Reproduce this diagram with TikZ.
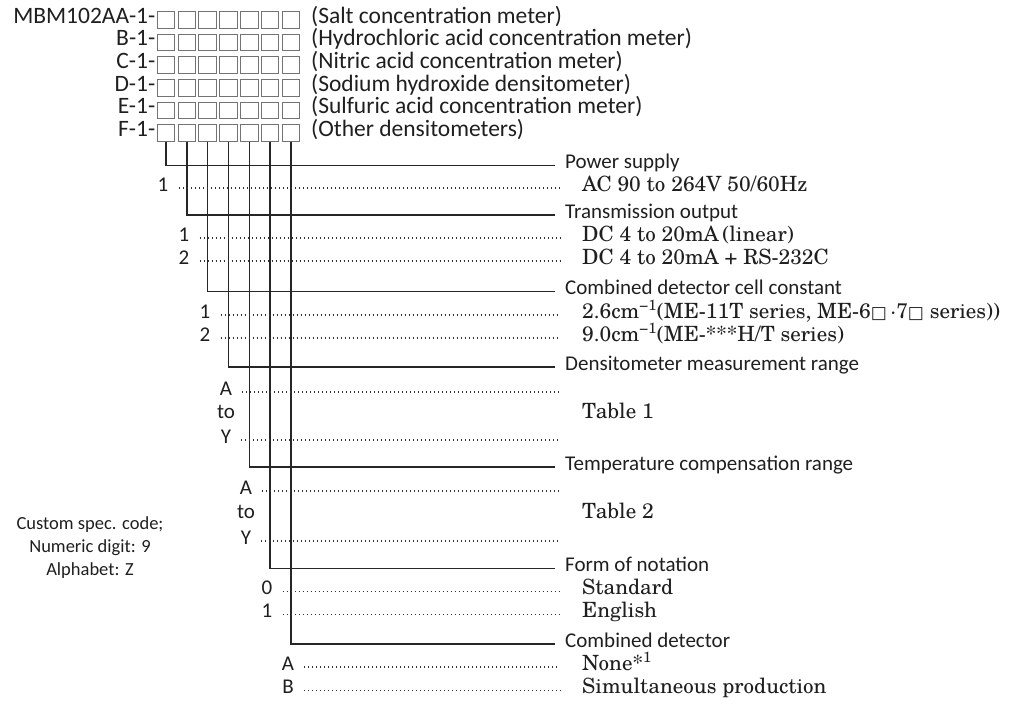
\documentclass[tikz,border=0pt]{standalone}
\usepackage{fontspec}
\setmainfont{Carlito}
\newfontfamily\cent{texgyreschola-regular.otf}
\newfontfamily\dv{DejaVu Sans}
\begin{document}
\begin{tikzpicture}[x=1pt,y=-1pt,
  every node/.style={inner sep=0pt, text=black!88},
  hdr/.style={font=\fontsize{23.5}{23.5}\selectfont, text height=0.72em, text depth=0.07em},
  sans/.style={font=\fontsize{21}{21}\selectfont, text height=0.72em, text depth=0.07em},
  serif/.style={font=\cent\fontsize{21}{21}\selectfont, text height=0.72em, text depth=0.07em},
  cbox/.style={draw=black!55, line width=0.9pt, minimum width=17.5pt, minimum height=16.5pt, inner sep=0pt},
  conn/.style={draw=black!85, line width=1.5pt},
  dots/.style={draw=black!80, line width=1.1pt, dash pattern=on 1.1pt off 2.9pt},
  cat/.style={sans, anchor=west, inner xsep=10pt},
  val/.style={serif, anchor=west, inner xsep=22pt},
  num/.style={sans, inner xsep=10pt},
]
\path[use as bounding box] (0,0) rectangle (1017,706);

% header rows
\node[hdr, anchor=east] (p1) at (155.5,20) {MBM102AA-1-};
\node[hdr, anchor=east] (p2) at (155.5,42.6) {B-1-};
\node[hdr, anchor=east] (p3) at (155.5,65.2) {C-1-};
\node[hdr, anchor=east] (p4) at (155.5,87.8) {D-1-};
\node[hdr, anchor=east] (p5) at (155.5,110.4) {E-1-};
\node[hdr, anchor=east] (p6) at (155.5,133) {F-1-};
\node[hdr, anchor=west] (s1) at (311,20) {(Salt concentration meter)};
\node[hdr, anchor=west] (s2) at (311,42.6) {(Hydrochloric acid concentration meter)};
\node[hdr, anchor=west] (s3) at (311,65.2) {(Nitric acid concentration meter)};
\node[hdr, anchor=west] (s4) at (311,87.8) {(Sodium hydroxide densitometer)};
\node[hdr, anchor=west] (s5) at (311,110.4) {(Sulfuric acid concentration meter)};
\node[hdr, anchor=west] (s6) at (311,133) {(Other densitometers)};
\foreach \r/\y in {1/20,2/42.6,3/65.2,4/87.8,5/110.4}{
  \foreach \k in {1,...,7}{
    \node[cbox] (r\r-\k) at ({166+20.83*(\k-1)},\y) {};
  }
}
\foreach \k in {1,...,7}{
  \node[cbox] (f\k) at ({166+20.83*(\k-1)},133) {};
}

% category labels
\node[cat] (c1) at (555,165.5) {Power supply};
\node[cat] (c2) at (555,215) {Transmission output};
\node[cat] (c3) at (555,291.5) {Combined detector cell constant};
\node[cat] (c4) at (555,367) {Densitometer measurement range};
\node[cat] (c5) at (555,467) {Temperature compensation range};
\node[cat] (c6) at (555,568.5) {Form of notation};
\node[cat] (c7) at (555,644) {Combined detector};
\foreach \k in {1,...,7}{
  \draw[conn] (f\k.south) |- (c\k.west);
}

% values
\node[val] (v11) at (560,188) {AC 90 to 264V 50/60Hz};
\node[num] (n11) at (163,188) {1};
\draw[dots] (n11.east) -- (v11.west);

\node[val] (v21) at (560,238) {DC 4 to 20mA\,(linear)};
\node[num] (n21) at (184,238) {1};
\draw[dots] (n21.east) -- (v21.west);
\node[val] (v22) at (560,261) {DC 4 to 20mA + RS-232C};
\node[num] (n22) at (184,261) {2};
\draw[dots] (n22.east) -- (v22.west);

\node[val] (v31) at (560,315) {2.6cm\textsuperscript{−1}(ME-11T series, ME-6{\dv\fontsize{17}{17}\selectfont □}\,·7{\dv\fontsize{17}{17}\selectfont □} series))};
\node[num] (n31) at (205,315) {1};
\draw[dots] (n31.east) -- (v31.west);
\node[val] (v32) at (560,338) {9.0cm\textsuperscript{−1}(ME-***H/T series)};
\node[num] (n32) at (205,338) {2};
\draw[dots] (n32.east) -- (v32.west);

\node[num] (n41) at (226,392) {A};
\node[num] (n42) at (226,415) {to};
\node[num] (n43) at (226,440) {Y};
\coordinate (e41) at (560,392);
\coordinate (e43) at (560,440);
\node[val] (v4) at (560,415) {Table 1};
\draw[dots] (n41.east) -- (e41);
\draw[dots] (n43.east) -- (e43);

\node[num] (n51) at (246,491) {A};
\node[num] (n52) at (246,515) {to};
\node[num] (n53) at (246,541) {Y};
\coordinate (e51) at (560,491);
\coordinate (e53) at (560,541);
\node[val] (v5) at (560,515) {Table 2};
\draw[dots] (n51.east) -- (e51);
\draw[dots] (n53.east) -- (e53);

\node[val] (v61) at (560,591.5) {Standard};
\node[num] (n61) at (267,591.5) {0};
\draw[dots] (n61.east) -- (v61.west);
\node[val] (v62) at (560,614.5) {English};
\node[num] (n62) at (267,614.5) {1};
\draw[dots] (n62.east) -- (v62.west);

\node[val] (v71) at (560,667) {None*\textsuperscript{1}};
\node[num] (n71) at (288,667) {A};
\draw[dots] (n71.east) -- (v71.west);
\node[val] (v72) at (560,690.5) {Simultaneous production};
\node[num] (n72) at (288,690.5) {B};
\draw[dots] (n72.east) -- (v72.west);

% note
\node[font=\fontsize{18.5}{23}\selectfont, align=center] (note) at (90,548) {Custom spec. code;\\Numeric digit: 9\\Alphabet: Z};
\end{tikzpicture}
\end{document}
